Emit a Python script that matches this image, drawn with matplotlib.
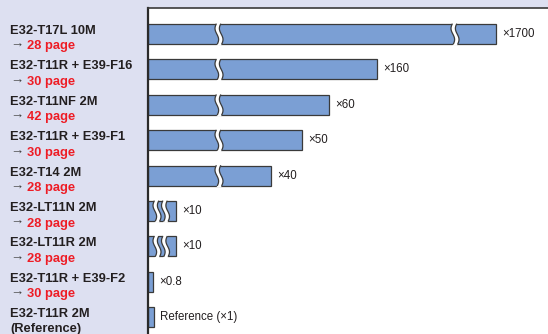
import numpy as np
import matplotlib
matplotlib.use("Agg")
import matplotlib.pyplot as plt

# Data (top to bottom)
models = ["E32-T17L 10M", "E32-T11R + E39-F16", "E32-T11NF 2M", "E32-T11R + E39-F1",
          "E32-T14 2M", "E32-LT11N 2M", "E32-LT11R 2M", "E32-T11R + E39-F2", "E32-T11R 2M"]
sublines = ["28 page", "30 page", "42 page", "30 page", "28 page",
            "28 page", "28 page", "30 page", "(Reference)"]
factor_labels = ["\u00d71700", "\u00d7160", "\u00d760", "\u00d750", "\u00d740",
                 "\u00d710", "\u00d710", "\u00d70.8", "Reference (\u00d71)"]
# drawn (broken-axis) bar lengths and break positions, in axis units
drawn_len = [348, 229, 181, 154, 123, 28, 28, 5, 6]
breaks = [[71, 307], [71], [71], [71], [71], [9, 17.5], [9, 17.5], [], []]

BG = "#dde0f1"
BAR = "#7b9fd4"
EDGE = "#3a3a3a"
TXT = "#231f20"
RED = "#ee1c25"
FONT = ["Liberation Sans", "DejaVu Sans"]

W, H, DPI = 548, 334, 100
fig = plt.figure(figsize=(W / DPI, H / DPI), dpi=DPI)
fig.patch.set_facecolor(BG)

# axes: left edge at x=148px, top at y=8px, running off the bottom
ax_top, ax_bot = 8, H + 16
ax = fig.add_axes([148 / W, (H - ax_bot) / H, (W - 148) / W, (ax_bot - ax_top) / H])
ax.set_facecolor("white")
ax.set_xlim(0, W - 148)
step = 35.4
first = 26
ax.set_ylim((ax_bot - ax_top - first) / step, -first / step)

n = len(models)
ypos = np.arange(n)
bar_h = 20 / step
ax.barh(ypos, drawn_len, height=bar_h, color=BAR, edgecolor=EDGE, linewidth=0.9, zorder=2)

# wavy break marks
amp, half_w = 1.8, 2.2
for i, bl in enumerate(breaks):
    for xb in bl:
        yy = np.linspace(i - bar_h / 2 - 0.05, i + bar_h / 2 + 0.05, 60)
        xc = xb + amp * np.sin(2 * np.pi * (yy - i) / bar_h * 0.9)
        ax.fill(np.concatenate([xc - half_w, (xc + half_w)[::-1]]),
                np.concatenate([yy, yy[::-1]]), color="white", zorder=3, lw=0)
        m = (yy >= i - bar_h / 2) & (yy <= i + bar_h / 2)
        ax.plot(xc[m] - half_w, yy[m], color=EDGE, lw=0.9, zorder=4)
        ax.plot(xc[m] + half_w, yy[m], color=EDGE, lw=0.9, zorder=4)

# value labels
for i, (v, lab) in enumerate(zip(drawn_len, factor_labels)):
    ax.annotate(lab, xy=(v, i), xytext=(6, 0), textcoords="offset pixels",
                ha="left", va="center", fontsize=8.3, color=TXT, family=FONT)

# left labels (baseline aligned)
lab_kw = dict(xycoords=("axes fraction", "data"), textcoords="offset pixels",
              ha="left", va="baseline", family=FONT)
for i in range(n):
    ax.annotate(models[i], xy=(0, i), xytext=(-138, 0), fontsize=9.3,
                fontweight="bold", color=TXT, **lab_kw)
    if sublines[i].startswith("("):
        ax.annotate(sublines[i], xy=(0, i), xytext=(-138, -15), fontsize=9.3,
                    fontweight="bold", color=TXT, **lab_kw)
    else:
        ax.annotate("\u2192", xy=(0, i), xytext=(-138, -14.2), fontsize=9.5,
                    color="#444444", **lab_kw)
        ax.annotate(sublines[i], xy=(0, i), xytext=(-121, -15.5), fontsize=9.3,
                    fontweight="bold", color=RED, **lab_kw)

for s in ["right", "bottom"]:
    ax.spines[s].set_visible(False)
ax.spines["left"].set_color("#2a2a2a")
ax.spines["left"].set_linewidth(1.6)
ax.spines["top"].set_color("#3a3a3a")
ax.spines["top"].set_linewidth(1.2)
ax.set_xticks([])
ax.set_yticks([])

fig.savefig("out.png", dpi=DPI, facecolor=BG)
